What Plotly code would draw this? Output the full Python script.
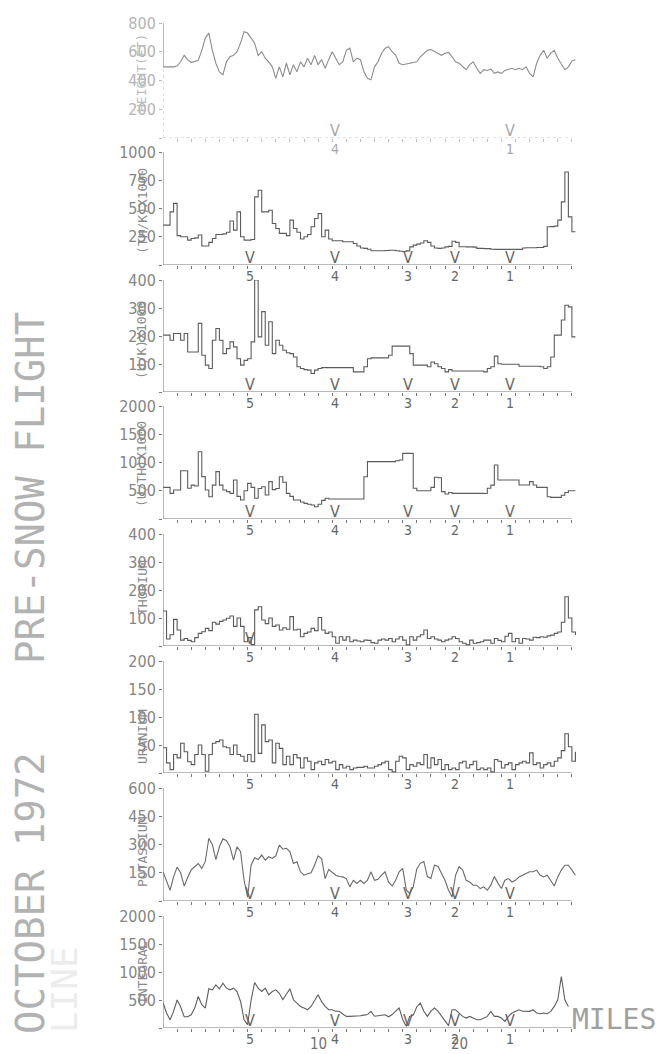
import plotly.graph_objects as go

W, H = 668, 1054

# sample positions along the flight line (miles), every quarter mile
miles = [-1 + 0.25 * i for i in range(118)]

height_ft = [495,495,490,495,500,530,575,545,525,530,
             540,610,695,730,610,520,460,440,530,565,
             575,600,660,740,730,695,660,575,600,555,
             530,495,415,495,425,520,440,510,460,530,
             495,555,510,575,510,545,485,545,600,555,
             510,530,610,625,530,555,545,460,415,405,
             495,530,590,625,635,600,575,520,510,515,
             520,530,530,565,590,610,615,600,590,575,
             590,595,565,530,520,495,475,510,530,485,
             450,475,470,480,450,460,450,470,475,485,
             475,485,475,495,450,425,520,575,610,555,
             590,610,555,510,475,495,535,545]

th_k = [353,353,470,545,260,250,250,220,235,240,
        265,168,168,200,235,270,270,275,290,390,
        309,470,250,220,220,225,603,661,470,470,
        485,367,323,280,280,260,397,323,290,230,
        250,270,338,411,455,250,309,230,215,215,
        215,206,206,206,190,168,150,147,140,126,
        126,126,126,128,130,130,126,122,120,125,
        160,176,185,195,215,200,168,150,147,150,
        160,165,210,200,162,162,160,160,158,147,
        147,145,145,140,138,138,138,138,138,138,
        138,138,150,153,153,153,155,155,165,338,
        340,344,397,559,823,426,294,294]

u_k = [203,203,185,209,209,185,209,143,143,143,
       245,131,96,84,185,227,185,137,155,179,
       161,119,96,113,119,179,400,197,287,167,
       251,137,185,167,149,140,137,125,90,84,
       80,78,66,78,84,87,87,87,87,87,
       87,87,87,87,72,72,72,90,119,122,
       122,122,122,122,131,164,164,164,164,164,
       137,96,96,96,96,90,107,101,90,84,
       72,80,75,75,75,75,75,75,75,75,
       75,72,84,90,128,101,99,99,99,99,
       99,92,92,92,92,92,92,90,84,90,
       125,203,203,257,310,304,197,197]

u_th = [560,560,454,513,513,855,855,543,600,584,
        1190,750,513,395,600,838,600,513,484,454,
        690,400,336,500,631,560,366,540,572,425,
        661,520,540,749,650,454,400,336,336,300,
        277,260,248,218,260,330,366,354,354,354,
        354,354,354,354,354,354,354,749,1015,1015,
        1015,1015,1015,1015,1015,1015,1030,1044,1162,1162,
        1162,543,501,501,501,501,560,738,730,484,
        442,470,454,454,454,454,454,454,454,454,
        454,450,543,600,956,690,690,690,690,690,
        690,602,602,602,661,602,560,560,560,395,
        383,383,383,420,470,501,501,501]

thorium = [125,25,40,95,57,21,27,20,15,30,
           45,51,63,55,85,78,88,93,99,107,
           70,100,70,15,30,5,129,140,93,80,
           100,70,75,57,65,60,105,57,60,33,
           45,50,63,55,102,57,45,50,33,10,
           33,21,33,15,21,18,15,21,20,12,
           10,21,25,21,27,15,25,33,21,4,
           33,21,33,40,57,27,33,25,21,15,
           21,25,33,27,15,10,4,21,10,12,
           15,21,21,10,27,20,15,35,45,15,
           27,10,27,25,21,31,30,33,31,36,
           39,45,50,85,176,100,50,39]

uranium = [45,18,6,33,27,53,38,20,15,33,
           50,33,3,33,53,56,59,47,45,33,
           50,33,30,21,33,20,105,35,86,56,
           59,18,53,44,15,30,15,33,27,9,
           27,21,6,18,21,15,24,18,21,6,
           15,9,12,6,9,10,10,12,9,9,
           12,15,18,21,6,2,21,30,27,6,
           15,12,18,15,33,9,27,15,24,6,
           15,6,9,6,18,21,9,15,21,6,
           9,6,9,2,24,21,9,15,18,6,
           15,18,21,18,36,15,18,9,15,18,
           12,21,27,40,70,47,21,38]

potassium = [155,100,57,128,180,150,80,125,165,182,
             199,173,210,333,300,220,288,330,320,288,
             217,288,262,110,20,190,230,220,244,217,
             235,226,240,297,275,280,262,199,208,155,
             137,145,150,190,240,225,119,168,150,137,
             130,128,119,75,110,93,110,93,110,155,
             110,115,137,155,100,80,110,155,173,60,
             39,75,170,200,210,130,120,190,185,146,
             110,57,21,137,182,165,110,101,84,84,
             66,75,57,84,130,95,66,110,119,101,
             110,128,137,145,155,155,164,137,128,137,
             110,80,128,164,190,190,164,137]

integral = [450,267,148,297,500,380,200,200,237,356,
            563,415,356,700,682,771,700,800,712,682,
            712,652,474,148,60,500,812,712,652,712,
            593,652,682,620,504,593,700,504,445,385,
            356,326,385,480,593,470,385,326,326,300,
            300,250,207,207,207,210,220,230,240,297,
            210,220,225,237,200,240,300,356,150,30,
            207,230,380,445,300,207,300,356,300,220,
            119,42,326,326,267,207,178,207,178,148,
            148,178,207,297,207,207,178,119,207,267,
            297,326,300,297,297,326,267,255,267,255,
            297,385,504,919,504,385]

titles = ["HEIGHT(FT)", "(TH/K)X1000", "(U/K)X1000", "(U/TH)X1000",
          "THORIUM", "URANIUM", "POTASSIUM", "INTEGRAL"]
series = [height_ft, th_k, u_k, u_th, thorium, uranium, potassium, integral]
y_max = [800, 1000, 400, 2000, 400, 200, 600, 2000]
tick_labels = [["", "200", "400", "600", "800"],
               ["", "250", "500", "750", "1000"],
               ["", "100", "200", "300", "400"],
               ["", "500", "1000", "1500", "2000"],
               ["", "100", "200", "300", "400"],
               ["", "50", "100", "150", "200"],
               ["", "150", "300", "450", "600"],
               ["", "500", "1000", "1500", "2000"]]

landmark_miles = [5.2, 11.2, 16.4, 19.7, 23.6]
landmark_labels = ["5", "4", "3", "2", "1"]
mile_labels = [10, 20]

# ---- layout geometry (pixels) ----
panel_top = [23, 152, 280, 406, 534, 661, 788, 916]
panel_base = [138, 265, 392, 519, 646, 773, 901, 1028]
title_cy = [73, 211, 340, 464, 588, 737, 852, 973]
shapes_hv = [False, True, True, True, True, True, False, False]
v_marks = [[1, 4], [0, 1, 2, 3, 4], [0, 1, 2, 3, 4], [0, 1, 2, 3, 4],
           [0], [], [0, 1, 2, 3, 4], [0, 1, 2, 3, 4]]
trace_col = ["#8c8c8c", "#5c5c5c", "#5c5c5c", "#5c5c5c",
             "#5a5a5a", "#5a5a5a", "#6a6a6a", "#5e5e5e"]

XMIN, XMAX = -1, 28.4
px_per_mile = 14.1
x0px = 163
xdom = [x0px / W, (x0px + (XMAX - XMIN) * px_per_mile) / W]

NUMFONT = "Liberation Sans Narrow, DejaVu Sans Condensed, DejaVu Sans Mono"
MONO = "DejaVu Sans Mono"
AX = "#777777"

fig = go.Figure()
layout = dict(template="none", width=W, height=H,
              margin=dict(l=0, r=0, t=0, b=0, pad=0, autoexpand=False),
              paper_bgcolor="white", plot_bgcolor="white", showlegend=False)
shapes = []
annotations = []

for k in range(8):
    n = k + 1
    sfx = "" if n == 1 else str(n)
    xa, ya = "x" + sfx, "y" + sfx
    vals = series[k]
    fig.add_trace(go.Scatter(
        x=miles[:len(vals)], y=vals, mode="lines",
        line=dict(color=trace_col[k], width=1.1,
                  shape="hv" if shapes_hv[k] else "linear"),
        xaxis=xa, yaxis=ya, hoverinfo="skip"))
    ydom = [1 - panel_base[k] / H, 1 - panel_top[k] / H]
    top = y_max[k]
    lab_col = "#b4b4b4" if k == 0 else "#858585"
    layout["xaxis" + sfx] = dict(
        domain=xdom, range=[XMIN, XMAX], anchor=ya, automargin=False,
        tickvals=list(range(0, 29)), ticks="outside", ticklen=3,
        tickwidth=1, tickcolor="#bbbbbb" if k == 0 else AX,
        showticklabels=False, showgrid=False, zeroline=False, showline=False,
        fixedrange=True)
    layout["yaxis" + sfx] = dict(
        domain=ydom, range=[0, top], anchor=xa, automargin=False,
        tickvals=[top * j / 4 for j in range(5)], ticktext=tick_labels[k],
        ticks="outside", ticklen=3, tickwidth=1,
        tickcolor="#bbbbbb" if k == 0 else AX,
        tickfont=dict(family=NUMFONT, size=16, color=lab_col),
        showgrid=False, zeroline=False, showline=False, fixedrange=True)
    # axis lines
    if k == 0:
        shapes.append(dict(type="line", xref=xa, yref=ya, x0=XMIN, x1=28,
                           y0=0, y1=0, line=dict(color="#c4c4c4", width=1, dash="dot")))
        shapes.append(dict(type="line", xref=xa, yref=ya, x0=XMIN, x1=XMIN,
                           y0=top * 0.62, y1=top, line=dict(color=AX, width=1)))
        shapes.append(dict(type="line", xref=xa, yref=ya, x0=XMIN, x1=XMIN,
                           y0=0, y1=top * 0.62, line=dict(color="#c4c4c4", width=1, dash="dot")))
    else:
        shapes.append(dict(type="line", xref=xa, yref=ya, x0=XMIN, x1=28,
                           y0=0, y1=0, line=dict(color=AX, width=1)))
        shapes.append(dict(type="line", xref=xa, yref=ya, x0=XMIN, x1=XMIN,
                           y0=0, y1=top, line=dict(color=AX, width=1)))
    # landmark V marks and numbers
    mark_col = "#a8a8a8" if k == 0 else "#666666"
    for j in v_marks[k]:
        annotations.append(dict(x=landmark_miles[j], y=0, xref=xa, yref=ya,
                                text="V", showarrow=False, yanchor="bottom",
                                yshift=-4, font=dict(family=NUMFONT, size=16, color=mark_col)))
    idx = [1, 4] if k == 0 else [0, 1, 2, 3, 4]
    for j in idx:
        annotations.append(dict(x=landmark_miles[j], y=0, xref=xa, yref=ya,
                                text=landmark_labels[j], showarrow=False, yanchor="top",
                                yshift=-1, font=dict(family=NUMFONT, size=14, color=mark_col)))
    # axis title
    annotations.append(dict(x=142 / W, y=1 - title_cy[k] / H, xref="paper", yref="paper",
                            text=titles[k], textangle=-90, showarrow=False,
                            xanchor="center", yanchor="middle",
                            font=dict(family=MONO, size=13,
                                      color="#bcbcbc" if k == 0 else "#8a8a8a")))

# mile labels under the bottom panel
for m in mile_labels:
    annotations.append(dict(x=m, y=1 - 1044 / H, xref="x8", yref="paper",
                            text=str(m), showarrow=False, yanchor="middle",
                            font=dict(family=NUMFONT, size=15, color="#707070")))
annotations.append(dict(x=570 / W, y=1 - 1019 / H, xref="paper", yref="paper",
                        text="MILES", showarrow=False, xanchor="left", yanchor="middle",
                        font=dict(family=MONO, size=28, color="#a0a0a0")))

# big rotated titles
annotations.append(dict(x=30 / W, y=1 - 488 / H, xref="paper", yref="paper",
                        text="PRE-SNOW FLIGHT", textangle=-90, showarrow=False,
                        xanchor="center", yanchor="middle",
                        font=dict(family=MONO, size=39, color="#b2b2b2")))
annotations.append(dict(x=30 / W, y=1 - 893 / H, xref="paper", yref="paper",
                        text="OCTOBER 1972", textangle=-90, showarrow=False,
                        xanchor="center", yanchor="middle",
                        font=dict(family=MONO, size=39, color="#b2b2b2")))
annotations.append(dict(x=64 / W, y=1 - 990 / H, xref="paper", yref="paper",
                        text="LINE", textangle=-90, showarrow=False,
                        xanchor="center", yanchor="middle",
                        font=dict(family=MONO, size=36, color="#ececec")))

layout["shapes"] = shapes
layout["annotations"] = annotations
fig.update_layout(**layout)
fig.write_html("out.html", config={"displayModeBar": False},
               post_script="document.body.style.margin='0';document.body.style.padding='0';")
